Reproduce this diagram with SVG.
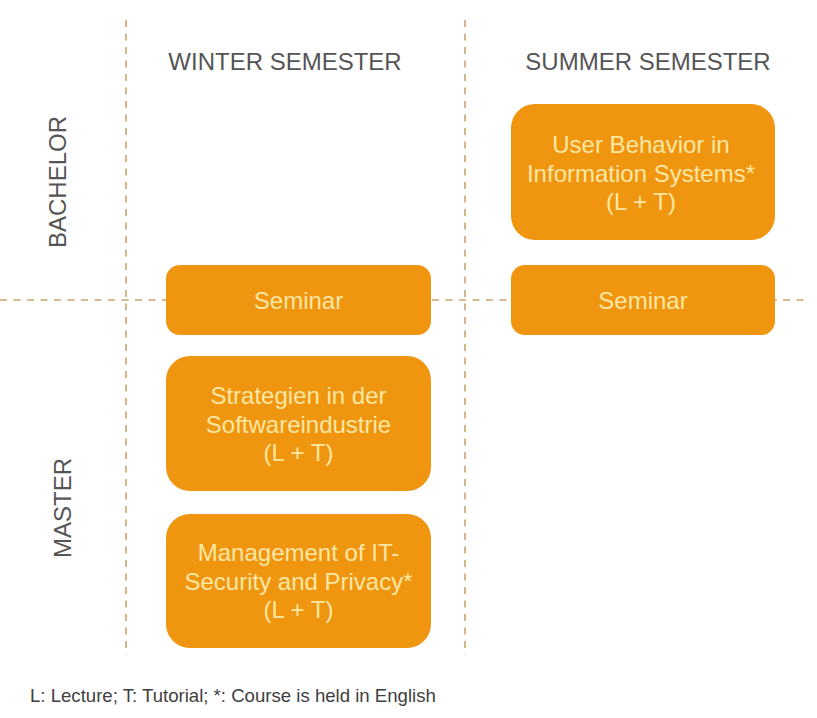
<svg xmlns="http://www.w3.org/2000/svg" width="817" height="718" viewBox="0 0 817 718">
<style>
.grid{stroke:#c9a46e;stroke-width:1.6;stroke-dasharray:7 6.5;fill:none}
.box{fill:#f0950f}
.bt{font-family:"Liberation Sans",Arial,sans-serif;font-size:24px;fill:#fde7a3;text-anchor:middle}
.hd{font-family:"Liberation Sans",Arial,sans-serif;font-size:24px;fill:#555555;text-anchor:middle}
.ft{font-family:"Liberation Sans",Arial,sans-serif;font-size:18.6px;fill:#404040}
</style>
<rect width="817" height="718" fill="#ffffff"/>
<g id="connectors">
<line class="grid" x1="126" y1="20" x2="126" y2="655"/>
<line class="grid" x1="465" y1="20" x2="465" y2="655"/>
<line class="grid" x1="0" y1="300" x2="808" y2="300"/>
</g>
<g id="labels">
<text class="hd" x="285" y="70">WINTER SEMESTER</text>
<text class="hd" x="648" y="70">SUMMER SEMESTER</text>
<text class="hd" transform="translate(66,182) rotate(-90)">BACHELOR</text>
<text class="hd" transform="translate(71,508) rotate(-90)">MASTER</text>
<text class="ft" x="30" y="702">L: Lecture; T: Tutorial; *: Course is held in English</text>
</g>
<g id="ub">
<rect class="box" x="511" y="104" width="264" height="136" rx="24"/>
<text class="bt" x="641" y="153">User Behavior in</text>
<text class="bt" x="641" y="181.5">Information Systems*</text>
<text class="bt" x="641" y="210">(L + T)</text>
</g>
<g id="seminar-summer">
<rect class="box" x="511" y="265" width="264" height="70" rx="14"/>
<text class="bt" x="643" y="308.5">Seminar</text>
</g>
<g id="seminar-winter">
<rect class="box" x="166" y="265" width="265" height="70" rx="14"/>
<text class="bt" x="298.5" y="308.5">Seminar</text>
</g>
<g id="strategien">
<rect class="box" x="166" y="356" width="265" height="135" rx="24"/>
<text class="bt" x="298.5" y="404">Strategien in der</text>
<text class="bt" x="298.5" y="432.5">Softwareindustrie</text>
<text class="bt" x="298.5" y="461">(L + T)</text>
</g>
<g id="management">
<rect class="box" x="166" y="514" width="265" height="134" rx="24"/>
<text class="bt" x="298.5" y="561">Management of IT-</text>
<text class="bt" x="298.5" y="589.5">Security and Privacy*</text>
<text class="bt" x="298.5" y="618">(L + T)</text>
</g>
</svg>
